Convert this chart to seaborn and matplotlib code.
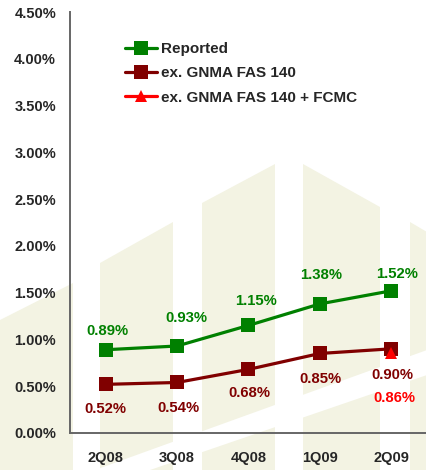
import matplotlib
matplotlib.use("Agg")
import matplotlib.pyplot as plt
import matplotlib.ticker as mticker
from matplotlib.patches import Polygon
import pandas as pd
import seaborn as sns

# Quarterly series (percent)
quarters = ["2Q08", "3Q08", "4Q08", "1Q09", "2Q09"]
reported = [0.89, 0.93, 1.15, 1.38, 1.52]
ex_gnma = [0.52, 0.54, 0.68, 0.85, 0.90]
fcmc_quarters = ["2Q09"]
ex_gnma_fcmc = [0.86]

series_names = ["Reported", "ex. GNMA FAS 140", "ex. GNMA FAS 140 + FCMC"]
colors = ["#008000", "#800000", "#FF0000"]

# value-label offsets in pixels (dx, dy)
reported_offsets = [(2, 19), (9, 28), (8, 24), (1, 29), (6, 17)]
ex_gnma_offsets = [(0, -25), (1, -26), (1, -24), (1, -26), (1, -26)]
fcmc_offsets = [(3, -45)]

sns.set_style("white")
plt.rcParams["font.family"] = ["Liberation Sans", "DejaVu Sans"]
plt.rcParams["font.weight"] = "bold"

W, H = 427, 470
fig = plt.figure(figsize=(W / 100, H / 100), dpi=100)

# faint building watermark behind the plot
wm = "#F3F3E3"
bands = [
    [(0, 320), (73, 283), (73, 470), (0, 470)],
    [(100, 263), (173, 222), (173, 470), (100, 470)],
    [(202, 203), (275, 164), (275, 470), (202, 470)],
    [(303, 164), (380, 207), (380, 470), (303, 470)],
    [(410, 222), (427, 232), (427, 470), (410, 470)],
]
for pts in bands:
    fig.patches.append(Polygon([(x / W, 1 - y / H) for x, y in pts], closed=True,
                               transform=fig.transFigure, facecolor=wm,
                               edgecolor="none", zorder=-5))
# white ribbon across the lower part of the watermark
ribbon = [(95, 470), (427, 350), (427, 375), (150, 470)]
fig.patches.append(Polygon([(x / W, 1 - y / H) for x, y in ribbon], closed=True,
                           transform=fig.transFigure, facecolor="white",
                           edgecolor="none", zorder=-4))

ax = fig.add_axes([70 / W, 1 - 433 / H, 1 - 70 / W, (433 - 12) / H])
ax.set_zorder(2)
ax.set_facecolor("none")
ax.patch.set_alpha(0)

df = pd.DataFrame({"quarter": quarters, "Reported": reported, "ex": ex_gnma})
df2 = pd.DataFrame({"quarter": fcmc_quarters, "v": ex_gnma_fcmc})

order_pos = {q: i for i, q in enumerate(quarters)}
df["x"] = df["quarter"].map(order_pos)
df2["x"] = df2["quarter"].map(order_pos)

sns.lineplot(data=df, x="x", y="Reported", ax=ax, color=colors[0], lw=2.3,
             marker="s", markersize=10, markeredgewidth=0, sort=False,
             label=series_names[0], zorder=3)
sns.lineplot(data=df, x="x", y="ex", ax=ax, color=colors[1], lw=2.3,
             marker="s", markersize=10, markeredgewidth=0, sort=False,
             label=series_names[1], zorder=3)
sns.lineplot(data=df2, x="x", y="v", ax=ax, color=colors[2], lw=2.3,
             marker="^", markersize=9, markeredgewidth=0, sort=False,
             label=series_names[2], zorder=4)


def annotate(xs, vals, offs, color):
    for q, v, (dx, dy) in zip(xs, vals, offs):
        ax.annotate(f"{v:.2f}%", (order_pos[q], v), xytext=(dx * 0.72, dy * 0.72),
                    textcoords="offset points", ha="center", va="center",
                    color=color, fontsize=10.7, fontweight="bold")


annotate(quarters, reported, reported_offsets, colors[0])
annotate(quarters, ex_gnma, ex_gnma_offsets, colors[1])
annotate(fcmc_quarters, ex_gnma_fcmc, fcmc_offsets, colors[2])

ax.set_xlim(-0.5, len(quarters) - 0.5)
ax.set_ylim(0, 4.5)
ax.yaxis.set_major_locator(mticker.MultipleLocator(0.5))
ax.yaxis.set_major_formatter(mticker.FuncFormatter(lambda v, _: f"{v:.2f}%"))
ax.set_xticks(range(len(quarters)))
ax.set_xticklabels(quarters)
ax.set_xticks([i - 0.5 for i in range(len(quarters) + 1)], minor=True)
ax.tick_params(axis="x", which="major", length=0, pad=13, labelsize=10.5)
ax.tick_params(axis="x", which="minor", length=4, width=1.2, color="#555555",
               direction="out")
ax.tick_params(axis="y", which="major", length=4, width=1.2, color="#555555",
               direction="out", pad=6, labelsize=10.5)
ax.set_xlabel("")
ax.set_ylabel("")
ax.grid(False)
for s in ["top", "right"]:
    ax.spines[s].set_visible(False)
for s in ["left", "bottom"]:
    ax.spines[s].set_color("#666666")
    ax.spines[s].set_linewidth(1.4)

leg = ax.legend(loc="upper left", bbox_to_anchor=(125 / W, 1 - 42 / H),
                bbox_transform=fig.transFigure, frameon=False, fontsize=11,
                handlelength=2.1, handletextpad=0.26, labelspacing=0.68,
                borderpad=0, borderaxespad=0)
for t in leg.get_texts():
    t.set_fontweight("bold")

fig.canvas.draw()
for lab in ax.get_xticklabels() + ax.get_yticklabels():
    lab.set_fontweight("bold")

fig.savefig("out.png", dpi=100)
